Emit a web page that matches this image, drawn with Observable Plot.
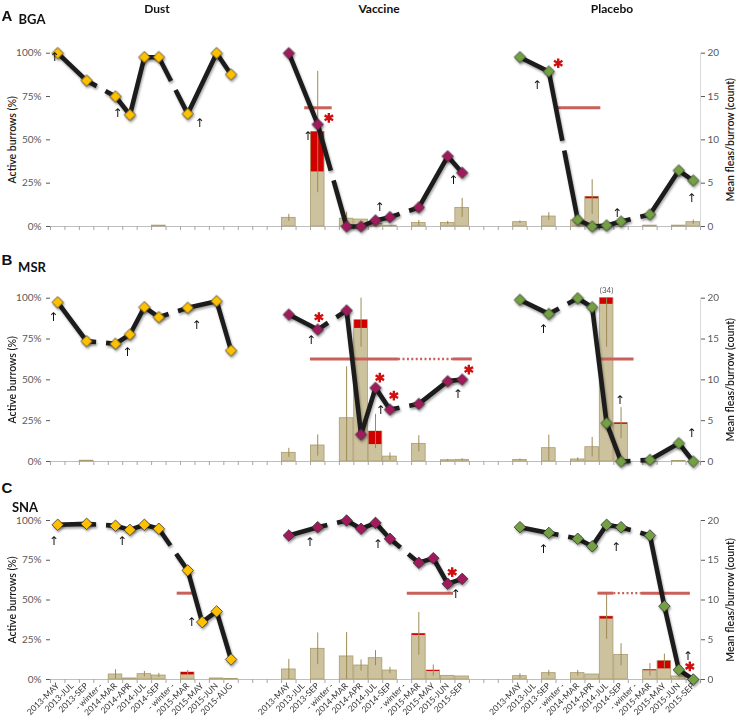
<!DOCTYPE html>
<html>
<head>
<meta charset="utf-8">
<script src="https://cdn.jsdelivr.net/npm/d3@7"></script>
<script src="https://cdn.jsdelivr.net/npm/@observablehq/plot@0.6"></script>
<style>
  html, body { margin: 0; padding: 0; background: #fff; }
  #chart { position: relative; width: 738px; height: 718px; overflow: hidden; font-family: Lato, "Open Sans", sans-serif; }
  .lbl { position: absolute; transform: translate(-50%, -50%); white-space: nowrap; color: #111; font-weight: 700; }
</style>
</head>
<body>
<div id="chart"></div>
<script>
// ---------------- DATA ----------------
const groups = ["Dust", "Vaccine", "Placebo"];
const sites = ["BGA", "MSR", "SNA"];
const siteLetters = ["A", "B", "C"];
const dustDates = ["2013-MAY","2013-JUL","2013-SEP","- winter -","2014-MAR","2014-APR","2014-JUL","2014-SEP","- winter -","2015-MAR","2015-MAY","2015-JUN","2015-AUG"];
const trialDates = ["2013-MAY","2013-JUL","2013-SEP","- winter -","2014-MAR","2014-APR","2014-JUL","2014-SEP","- winter -","2015-MAR","2015-MAY","2015-JUN","2015-SEP"];

// Active burrows (%) — 13 values per group: Dust, Vaccine, Placebo
const bgaActive = [
  100, null, 84.2, null, 75, 64.4, 97.7, 97.7, null, 65, null, 100, 87.7,
  100, null, 58.9, null, 0, 0, 3.5, 5.4, null, 11, null, 40.5, 31,
  97.7, null, 89.4, null, 3.9, 0, 0.6, 2.9, null, 6.9, null, 32.3, 26.5
];
const msrActive = [
  97.5, null, 73.7, null, 72.1, 77.8, 94.5, 88.4, null, 94.1, null, 98.2, 68,
  90, null, 80.8, null, 92.5, 16.5, 45.1, 31.8, null, 35.3, null, 49.2, 50.2,
  99, null, 90.4, null, 100, 94.5, 23.5, 0, null, 1.0, null, 11.2, 0
];
const snaActive = [
  97.3, null, 97.9, null, 96.7, 94.1, 97.3, 94.8, null, 68.6, 36.1, 42.8, 12.6,
  90.6, null, 95.8, null, 100, 94.8, 98.5, 88.5, null, 73.4, 76.3, 60.2, 63.3,
  95.8, null, 92.2, null, 88.5, 83.8, 97.3, 95.8, null, 90.6, 46.1, 6.1, 0
];

// Mean fleas per burrow (count)
const bgaFleas = [
  null, null, null, null, null, null, null, 0.1, null, null, null, null, null,
  1.0, null, 10.9, null, 0.9, 0.8, 0.3, 0.1, null, 0.4, null, 0.4, 2.15,
  0.5, null, 1.15, null, 0.7, 3.4, null, null, null, 0.1, null, 0.1, 0.5
];
const msrFleas = [
  null, null, 0.1, null, null, null, null, null, null, null, null, null, null,
  1.06, null, 1.96, null, 5.3, 17.3, 3.67, 0.6, null, 2.16, null, 0.15, 0.2,
  0.2, null, 1.63, null, 0.25, 1.75, 34, 4.7, null, null, null, 0.08, null
];
const snaFleas = [
  null, null, null, null, 0.63, 0.13, 0.67, 0.5, null, 0.88, null, 0.13, 0.08,
  1.26, null, 3.86, null, 2.9, 1.76, 2.68, 1.13, null, 5.74, 1.13, 0.46, 0.38,
  0.42, null, 0.8, null, 0.8, 0.63, 7.9, 3.1, null, 1.2, 2.3, 0.38, null
];

// Red (upper) portion of the flea bars (count)
const bgaRed = [
  null, null, null, null, null, null, null, null, null, null, null, null, null,
  null, null, 4.6, null, null, null, null, null, null, null, null, null, null,
  null, null, null, null, null, 0.2, null, null, null, null, null, null, null
];
const msrRed = [
  null, null, null, null, null, null, null, null, null, null, null, null, null,
  null, null, null, null, null, 1.0, 1.6, null, null, null, null, null, null,
  null, null, null, null, null, null, 0.75, 0.15, null, null, null, null, null
];
const snaRed = [
  null, null, null, null, null, null, null, null, null, 0.3, null, null, null,
  null, null, null, null, null, null, null, null, null, 0.2, 0.12, null, null,
  null, null, null, null, null, null, 0.3, null, null, 0.1, 0.96, null, null
];

// Error (± count) of the flea bars
const bgaErr = [
  null, null, null, null, null, null, null, null, null, null, null, null, null,
  0.4, null, 7.0, null, 0.75, null, null, null, null, 0.3, null, 0.2, 1.1,
  0.15, null, 0.45, null, null, 2.0, null, null, null, null, null, null, 0.25
];
const msrErr = [
  null, null, null, null, null, null, null, null, null, null, null, null, null,
  0.55, null, 1.3, null, 6.3, 3.3, 2.1, 0.45, null, 1.0, null, 0.1, 0.15,
  0.1, null, 1.6, null, 0.2, 1.2, 20, 1.9, null, null, null, null, null
];
const snaErr = [
  null, null, null, null, 0.6, null, 0.35, 0.25, null, 0.25, null, null, null,
  1.26, null, 2.0, null, 3.0, 0.7, 0.95, 0.4, null, 2.7, 0.7, null, null,
  0.3, null, 0.35, null, 0.35, null, 2.85, 1.4, null, 0.8, 0.9, null, null
];

// Threshold level (% active burrows) per site, and the periods it is drawn over
const thresholdPct = [68.5, 62.8, 54.3];
const bgaThreshold = [[17.6, 19.5, "solid"], [34.9, 38.1, "solid"]];
const msrThreshold = [[18.0, 24.1, "solid"], [24.1, 27.9, "dotted"], [27.9, 29.2, "solid"], [38.0, 40.4, "solid"]];
const snaThreshold = [[8.77, 10.04, "solid"], [24.7, 27.9, "solid"], [37.9, 39.0, "solid"], [39.0, 40.9, "dotted"], [40.9, 44.3, "solid"]];

// Treatment arrows and significance asterisks [x slot, % active]
const bgaArrows = [[0.28, 97.5], [4.64, 65.2], [10.32, 59.4], [17.81, 51.9], [22.78, 11.1], [27.88, 26.9], [33.69, 81.4], [39.23, 7.9], [44.38, 16.6]];
const msrArrows = [[0.19, 88.4], [5.31, 66.9], [10.11, 83.7], [18.04, 74.5], [22.85, 31.7], [28.2, 41.0], [34.11, 81.3], [39.41, 37.8], [44.38, 17.3]];
const snaArrows = [[0.23, 86.8], [4.96, 86.8], [9.76, 36.0], [17.95, 86.4], [22.66, 85.3], [28.04, 53.9], [34.11, 82.2], [39.16, 83.2], [44.12, 14.5]];
const bgaStars = [[19.27, 62.7], [35.15, 94.2]];
const msrStars = [[18.58, 88.4], [22.8, 51.3], [23.77, 40.4], [28.96, 56.3]];
const snaStars = [[27.81, 67.5], [44.26, 8.2]];

// ---------------- BUILD ----------------
const groupColor = {Dust: "#ffc000", Vaccine: "#a01a5c", Placebo: "#72a042"};
const siteData = [
  {active: bgaActive, fleas: bgaFleas, red: bgaRed, err: bgaErr, thr: bgaThreshold, arrows: bgaArrows, stars: bgaStars},
  {active: msrActive, fleas: msrFleas, red: msrRed, err: msrErr, thr: msrThreshold, arrows: msrArrows, stars: msrStars},
  {active: snaActive, fleas: snaFleas, red: snaRed, err: snaErr, thr: snaThreshold, arrows: snaArrows, stars: snaStars}
];

// 45 slots: 13 dates per group with 3 empty slots between groups
const slots = [];
groups.forEach((g, gi) => {
  const dates = gi === 0 ? dustDates : trialDates;
  dates.forEach((d, k) => slots.push({group: g, date: d, k}));
  if (gi < groups.length - 1) for (let j = 0; j < 3; j++) slots.push({group: null, date: ""});
});
const slotOf = (gi, k) => slots.findIndex(s => s.group === groups[gi] && s.k === k);

function records(sd) {
  const recs = [];
  groups.forEach((g, gi) => {
    const n = gi === 0 ? dustDates.length : trialDates.length;
    for (let k = 0; k < n; k++) {
      const j = gi * 13 + k;
      recs.push({group: g, gi, k, slot: slotOf(gi, k), date: slots[slotOf(gi, k)].date,
        active: sd.active[j], fleas: sd.fleas[j], red: sd.red[j] ?? 0, err: sd.err[j] ?? 0});
    }
  });
  return recs;
}

// break the line where it crosses a winter slot (gap of fixed on-screen length)
const GAP_PX = 5;
function lineSegments(recs, pxPerSlot, pxPerPct) {
  const out = []; let seg = 0;
  groups.forEach((g, gi) => {
    const pts = recs.filter(r => r.gi === gi && r.active != null);
    pts.forEach((p, i) => {
      if (i > 0) {
        const q = pts[i - 1];
        const winter = recs.find(r => r.gi === gi && r.k > q.k && r.k < p.k && r.date.includes("winter"));
        if (winter) {
          const x0 = q.slot + 0.5, x1 = p.slot + 0.5, xm = winter.slot + 0.5;
          const len = Math.hypot((x1 - x0) * pxPerSlot, (p.active - q.active) * pxPerPct);
          const tm = (xm - x0) / (x1 - x0), dt = GAP_PX / len;
          const at = t => ({x: x0 + (x1 - x0) * t, y: q.active + (p.active - q.active) * t});
          out.push({...at(tm - dt), seg});
          seg++;
          out.push({...at(tm + dt), seg});
        }
      }
      out.push({x: p.slot + 0.5, y: p.active, seg});
    });
    seg++;
  });
  return out;
}

const layout = [
  {top: 36, mt: 16.7, mb: 10, h: 200},
  {top: 281, mt: 16.7, mb: 10, h: 190},
  {top: 503, mt: 17, mb: 38, h: 214}
];

const chart = document.getElementById("chart");
const thrColor = "#c9605a";
const W = 738, ML = 50, MR = 38;

sites.forEach((site, si) => {
  const sd = siteData[si];
  const L = layout[si];
  const recs = records(sd);
  const bars = recs.filter(r => r.fleas != null);
  const shown = r => Math.min(r.fleas, 20);
  const pts = recs.filter(r => r.active != null);
  const segs = lineSegments(recs, (W - ML - MR) / slots.length, (L.h - L.mt - L.mb) / 100);
  const isBottom = si === sites.length - 1;
  const labelTicks = slots.map((s, i) => s.group ? i + 0.5 : null).filter(v => v != null);

  const marks = [
    Plot.ruleY([0], {stroke: "#bfbfbf"}),
    Plot.ruleX([45], {stroke: "#d9d9d9"}),
    Plot.axisX({ticks: d3.range(0, 46), tickSize: 4, tickFormat: () => "", color: "#a6a6a6", label: null}),
    Plot.axisY({anchor: "left", ticks: [0, 25, 50, 75, 100], tickFormat: d => d + "%", tickSize: 4, tickPadding: 5, fontSize: 10, color: "#595959", label: null}),
    Plot.axisY({anchor: "right", ticks: [0, 25, 50, 75, 100], tickFormat: d => d / 5, tickSize: 4, tickPadding: 3, fontSize: 10, color: "#595959", label: null}),
    // flea bars (count mapped onto the 0–20 right axis)
    Plot.rect(bars, {x1: r => r.slot, x2: r => r.slot + 1, y1: 0, y2: r => shown(r) * 5, fill: "#cdc29e", stroke: "#a99b6d", strokeWidth: 0.8, insetLeft: 0.4, insetRight: 0.4}),
    Plot.rect(bars.filter(r => r.red > 0), {x1: r => r.slot, x2: r => r.slot + 1, y1: r => (shown(r) - r.red) * 5, y2: r => shown(r) * 5, fill: "#d00000", insetLeft: 0.8, insetRight: 0.8}),
    Plot.ruleX(bars.filter(r => r.err > 0), {x: r => r.slot + 0.5, y1: r => Math.max(0, r.fleas - r.err) * 5, y2: r => Math.min(20, r.fleas + r.err) * 5, stroke: "#9d8b55", strokeWidth: 1}),
    Plot.text(bars.filter(r => r.fleas > 20), {x: r => r.slot + 0.5, y: 100, dy: -8, text: r => `(${r.fleas})`, fontSize: 8, fill: "#595959"}),
    // thresholds
    Plot.ruleY(sd.thr.filter(s => s[2] === "solid"), {y: () => thresholdPct[si], x1: s => s[0], x2: s => s[1], stroke: thrColor, strokeWidth: 3}),
    Plot.ruleY(sd.thr.filter(s => s[2] === "dotted"), {y: () => thresholdPct[si], x1: s => s[0], x2: s => s[1], stroke: thrColor, strokeWidth: 2.4, strokeDasharray: "2,2.4"}),
    // active burrows lines and diamonds
    Plot.line(segs, {x: "x", y: "y", z: "seg", stroke: "#1c1c1c", strokeWidth: 4.6, strokeLinecap: "butt", strokeLinejoin: "round"}),
    Plot.dot(pts, {x: r => r.slot + 0.5, y: "active", symbol: "diamond2", r: 5.2, fill: r => groupColor[r.group], stroke: "#333", strokeWidth: 0.8}),
    Plot.dot(sd.stars, {x: d => d[0], y: d => d[1], symbol: "asterisk", r: 4.6, stroke: "#d01010", strokeWidth: 2.4}),
    Plot.text(sd.arrows, {x: d => d[0], y: d => d[1], text: () => "↑", fontSize: 12, fontFamily: "DejaVu Sans", fill: "#111"}),
    // axis titles
    Plot.text(["Active burrows (%)"], {frameAnchor: "left", textAnchor: "middle", dx: -38, rotate: -90, text: d => d, fontSize: 10.5, fontWeight: 600, fill: "#1a1a1a"}),
    Plot.text(["Mean fleas/burrow (count)"], {frameAnchor: "right", textAnchor: "middle", dx: 30, rotate: -90, text: d => d, fontSize: 10.5, fontWeight: 600, fill: "#1a1a1a"})
  ];
  if (isBottom) {
    marks.push(Plot.axisX({ticks: labelTicks, tickFormat: x => slots[Math.floor(x)].date, tickSize: 0, tickPadding: 5, tickRotate: -45, fontSize: 8.5, color: "#333", label: null}));
  }

  const svg = Plot.plot({
    width: W, height: L.h,
    marginLeft: ML, marginRight: MR, marginTop: L.mt, marginBottom: L.mb,
    x: {domain: [0, 45], axis: null},
    y: {domain: [0, 100], axis: null},
    color: {type: "identity"},
    style: {fontFamily: "Lato, 'Open Sans', sans-serif", background: "transparent", overflow: "visible"},
    marks
  });
  svg.style.position = "absolute";
  svg.style.left = "0px";
  svg.style.top = L.top + "px";
  svg.querySelectorAll('g[aria-label="line"]').forEach(g => g.style.filter = "drop-shadow(1.5px 2px 1.2px rgba(0,0,0,0.35))");
  const dots = svg.querySelectorAll('g[aria-label="dot"]');
  if (dots.length) dots[0].style.filter = "drop-shadow(1.5px 2px 1.2px rgba(0,0,0,0.35))";
  chart.appendChild(svg);
});

// Titles and panel labels
function addLabel(text, x, y, size) {
  const d = document.createElement("div");
  d.className = "lbl";
  d.textContent = text;
  d.style.left = x + "px";
  d.style.top = y + "px";
  d.style.fontSize = size + "px";
  chart.appendChild(d);
  return d;
}
addLabel(groups[0], 157, 8, 12);
addLabel(groups[1], 379, 8, 12);
addLabel(groups[2], 612, 8, 12);
const letterPos = [[7, 15], [7, 259], [7, 487]];
const sitePos = [[32, 19], [32, 267], [25, 507]];
sites.forEach((s, i) => {
  addLabel(siteLetters[i], letterPos[i][0], letterPos[i][1], 15).style.fontFamily = "Arial, 'Liberation Sans', sans-serif";
  addLabel(s, sitePos[i][0], sitePos[i][1], 13);
});
</script>
</body>
</html>
